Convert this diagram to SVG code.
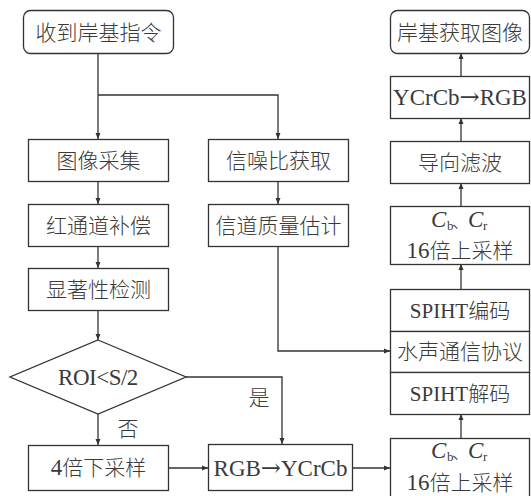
<svg xmlns="http://www.w3.org/2000/svg" width="531" height="496" viewBox="0 0 531 496">
<defs>
<marker id="ah" markerWidth="8" markerHeight="8" refX="7" refY="4" orient="auto" markerUnits="userSpaceOnUse">
<path d="M1,1.5 L7,4 L1,6.5 Z" fill="#333"/>
</marker>
<style>
.b{fill:#fff;stroke:#333;stroke-width:1.3}
.c{fill:none;stroke:#333;stroke-width:1.3;marker-end:url(#ah)}
.t{font-family:"Liberation Serif","Noto Sans CJK SC",serif;font-size:21px;fill:#3a3a3a;text-anchor:middle}
.l{font-size:23px}
.z{font-family:"Noto Sans CJK SC","Liberation Serif",sans-serif;font-weight:300;font-size:21px}
.a{font-family:"DejaVu Serif",serif;font-size:24px}
.i{font-style:italic}
.s{font-size:13px}
.st{text-anchor:start}
.dn{font-family:"Noto Sans CJK SC",sans-serif;font-weight:300;font-size:17px;fill:#3a3a3a}
</style>
</defs>
<rect width="531" height="496" fill="#fff"/>
<g id="connectors">
<path class="c" d="M98,53 V139"/>
<path class="c" d="M98,95 H278 V139"/>
<path class="c" d="M98,181 V204"/>
<path class="c" d="M98,246 V268"/>
<path class="c" d="M98,310 V340"/>
<path class="c" d="M98,414 V445"/>
<path class="c" d="M186,377 H282 V444"/>
<path class="c" d="M168,468 H208"/>
<path class="c" d="M352,468 H390"/>
<path class="c" d="M278,181 V204"/>
<path class="c" d="M278,246 V351 H390"/>
<path class="c" d="M461,438 V414"/>
<path class="c" d="M461,289 V264"/>
<path class="c" d="M461,206 V183"/>
<path class="c" d="M461,141 V118"/>
<path class="c" d="M461,76 V53"/>
</g>
<g id="n1"><rect class="b" x="23.5" y="10.5" width="150" height="43" rx="7"/><text class="t z" x="98.5" y="40">收到岸基指令</text></g>
<g id="n2"><rect class="b" x="28.5" y="139.5" width="140" height="42"/><text class="t z" x="98.5" y="168">图像采集</text></g>
<g id="n3"><rect class="b" x="28.5" y="204.5" width="140" height="42"/><text class="t z" x="98.5" y="233">红通道补偿</text></g>
<g id="n4"><rect class="b" x="28.5" y="268.5" width="140" height="42"/><text class="t z" x="98.5" y="297">显著性检测</text></g>
<g id="n5"><polygon class="b" points="98,340 186,377 98,414 10,377"/><text class="t l" x="98" y="385" letter-spacing="-0.5">ROI&lt;S/2</text></g>
<g id="n6"><rect class="b" x="28.5" y="445.5" width="140" height="45"/><text class="t z" x="98.5" y="475"><tspan font-family="Liberation Serif" font-weight="400" font-size="23">4</tspan>倍下采样</text></g>
<g id="n7"><rect class="b" x="208.5" y="444.5" width="144" height="46"/><text class="t l" x="280.5" y="476">RGB<tspan class="a">→</tspan>YCrCb</text></g>
<g id="n8"><rect class="b" x="208.5" y="139.5" width="140" height="42"/><text class="t z" x="278.5" y="168">信噪比获取</text></g>
<g id="n9"><rect class="b" x="208.5" y="204.5" width="140" height="42"/><text class="t z" x="278.5" y="233">信道质量估计</text></g>
<g id="n10"><rect class="b" x="390.5" y="10.5" width="139" height="43" rx="7"/><text class="t z" x="460" y="40">岸基获取图像</text></g>
<g id="n11"><rect class="b" x="390.5" y="76.5" width="139" height="42"/><text class="t l" x="460" y="105">YCrCb<tspan class="a">→</tspan>RGB</text></g>
<g id="n12"><rect class="b" x="390.5" y="141.5" width="139" height="42"/><text class="t z" x="460" y="170">导向滤波</text></g>
<g id="n13"><rect class="b" x="390.5" y="206.5" width="139" height="58"/>
<text class="t l i st" x="431" y="227">C</text><text class="t s st" x="447" y="230">b</text><text class="dn" x="452" y="228">、</text><text class="t l i st" x="468" y="227">C</text><text class="t s st" x="483" y="230">r</text>
<text class="t l" x="460" y="258">16<tspan class="z">倍上采样</tspan></text></g>
<g id="n14"><rect class="b" x="390.5" y="289.5" width="139" height="42"/><text class="t" x="460" y="318" font-size="22">SPIHT<tspan class="z">编码</tspan></text></g>
<g id="n15"><rect class="b" x="390.5" y="331.5" width="139" height="41"/><text class="t z" x="460" y="359">水声通信协议</text></g>
<g id="n16"><rect class="b" x="390.5" y="372.5" width="139" height="42"/><text class="t" x="460" y="401" font-size="22">SPIHT<tspan class="z">解码</tspan></text></g>
<g id="n17"><rect class="b" x="390.5" y="438.5" width="139" height="62"/>
<text class="t l i st" x="431" y="458">C</text><text class="t s st" x="447" y="461">b</text><text class="dn" x="452" y="459">、</text><text class="t l i st" x="468" y="458">C</text><text class="t s st" x="483" y="461">r</text>
<text class="t l" x="460" y="490">16<tspan class="z">倍上采样</tspan></text></g>
<g id="labels">
<text class="t z" x="128" y="436">否</text>
<text class="t z" x="259" y="405">是</text>
</g>
</svg>
